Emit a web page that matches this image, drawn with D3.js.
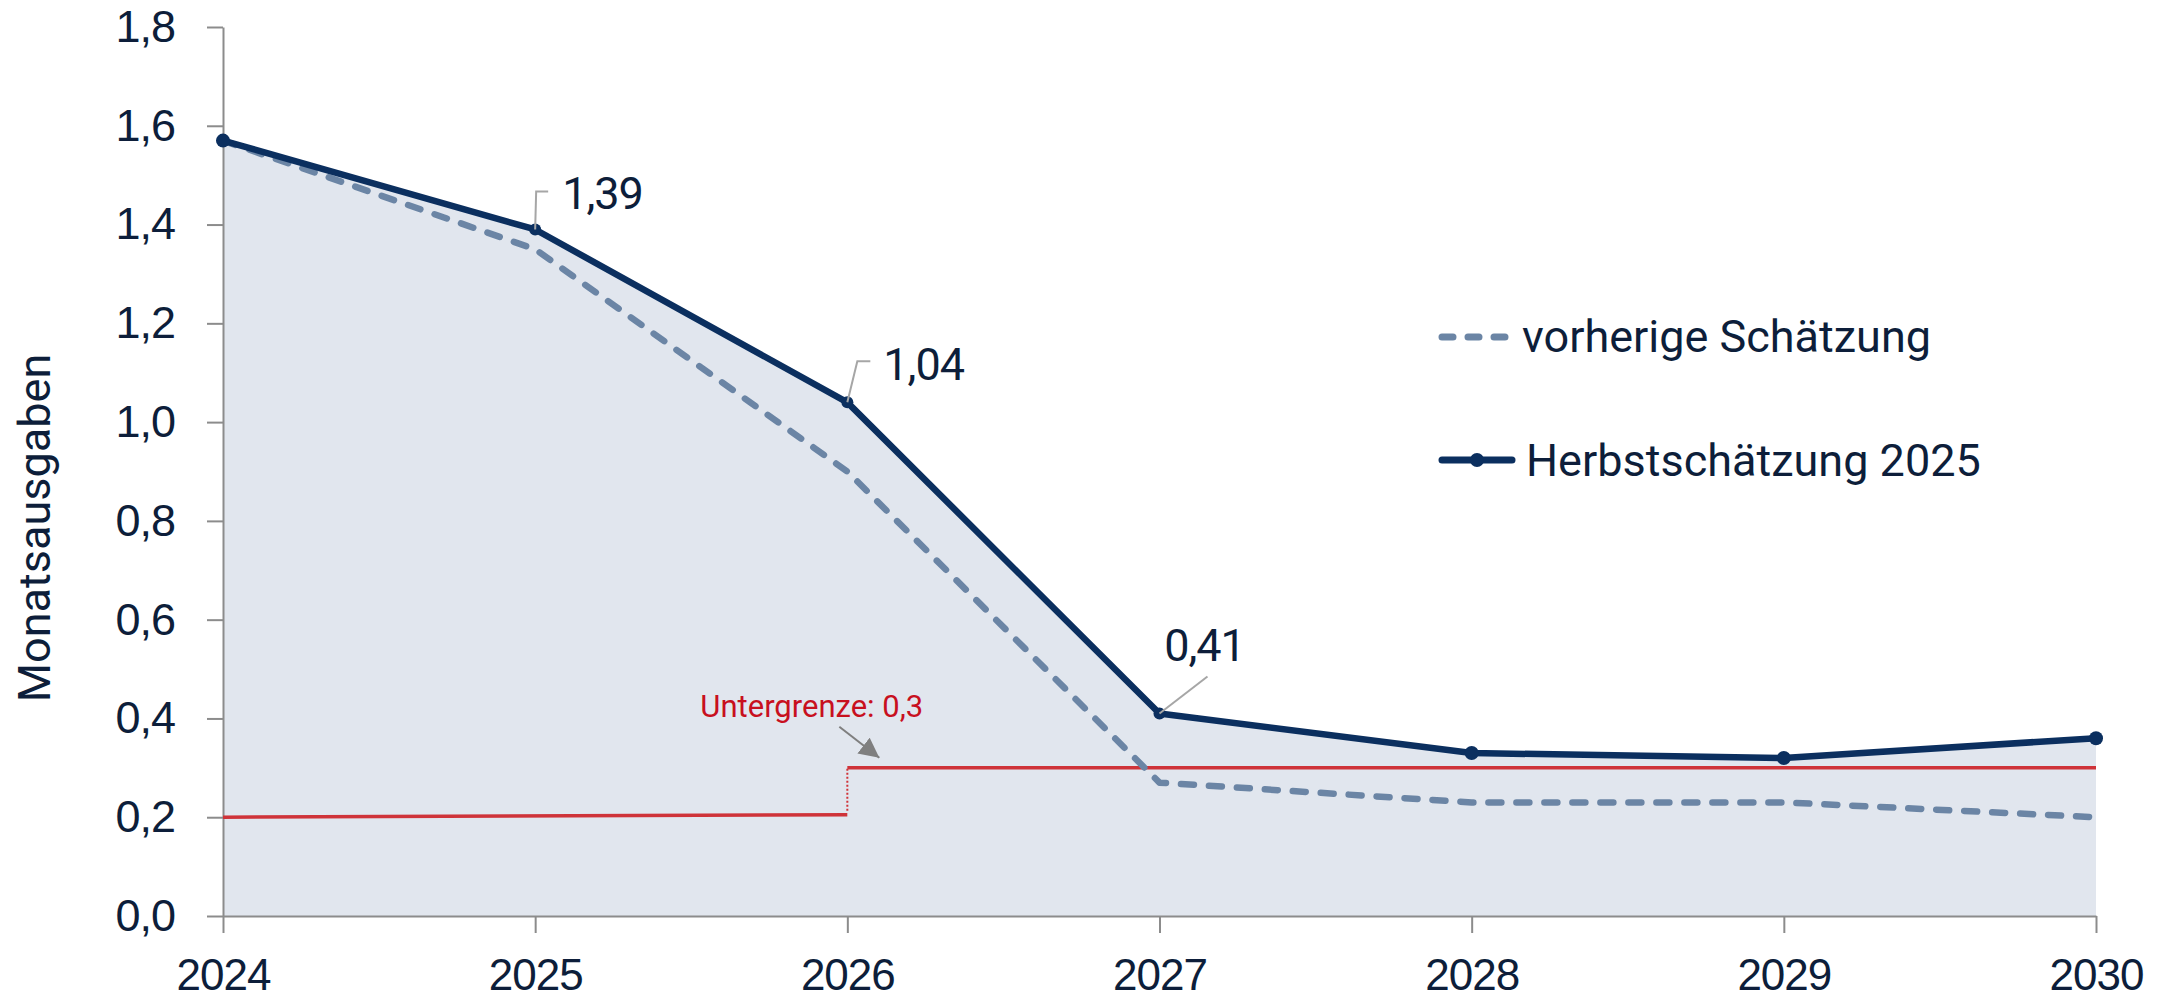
<!DOCTYPE html>
<html>
<head>
<meta charset="utf-8">
<script src="https://cdn.jsdelivr.net/npm/d3@7"></script>
<style>
  body { margin: 0; background: #fff; }
  svg { display: block; font-family: Roboto, "Noto Sans", sans-serif; }
</style>
</head>
<body>
<script>
const years = [2024, 2025, 2026, 2027, 2028, 2029, 2030];
const herbst2025 = [1.57, 1.39, 1.04, 0.41, 0.33, 0.32, 0.36];
const vorherige = [1.57, 1.35, 0.9, 0.27, 0.23, 0.23, 0.2];
const floorLowYears = [2024, 2026];
const floorLow = [0.2, 0.205];
const floorHighYears = [2026, 2030];
const floorHigh = [0.3, 0.3];
const yTicks = [0, 0.2, 0.4, 0.6, 0.8, 1.0, 1.2, 1.4, 1.6, 1.8];
const labeledYears = [2025, 2026, 2027];
const seriesNames = ["vorherige Schätzung", "Herbstschätzung 2025"];
const floorLabel = "Untergrenze: ";
const yTitle = "Monatsausgaben";

const width = 2159;
const height = 1003;
const navy = "#0b2f5f";
const dashBlue = "#6b85a5";
const red = "#cf3339";
const textColor = "#0d1e3a";

const de = d3.formatLocale({ decimal: ",", thousands: ".", grouping: [3], currency: ["", " €"] });

const x = d3.scaleLinear().domain([2024, 2030]).range([223, 2096]);
const y = d3.scaleLinear().domain([0, 1.8]).range([916, 27]);

const svg = d3.select("body").append("svg")
  .attr("width", width)
  .attr("height", height);

const herbst = years.map((yr, i) => ({ year: yr, value: herbst2025[i] }));
const prev = years.map((yr, i) => ({ year: yr, value: vorherige[i] }));

// area under the new estimate
svg.append("path")
  .datum(herbst)
  .attr("fill", "#e1e6ee")
  .attr("d", d3.area().x(d => x(d.year)).y0(y(0)).y1(d => y(d.value)));

// axes
const yAxis = svg.append("g")
  .attr("transform", `translate(${x(2024)},0)`)
  .call(d3.axisLeft(y).tickValues(yTicks).tickSize(16).tickSizeOuter(0).tickPadding(32)
    .tickFormat(de.format(".1f")));

const xAxis = svg.append("g")
  .attr("transform", `translate(0,${y(0)})`)
  .call(d3.axisBottom(x).tickValues(years).tickSize(17).tickSizeOuter(0).tickPadding(26)
    .tickFormat(d3.format("d")));

[yAxis, xAxis].forEach(g => {
  g.selectAll("path, line").attr("stroke", "#8c8c8c").attr("stroke-width", 2);
  g.selectAll("text")
    .attr("fill", textColor)
    .style("font-size", "45px")
    .style("letter-spacing", "-1px");
});
xAxis.selectAll("text").style("font-size", "44px");

svg.append("text")
  .attr("transform", "rotate(-90)")
  .attr("x", -528)
  .attr("y", 50)
  .attr("text-anchor", "middle")
  .attr("fill", textColor)
  .style("font-size", "45px")
  .text(yTitle);

// lower bound
const floorLine = d3.line().x(d => x(d[0])).y(d => y(d[1]));
svg.append("path")
  .datum(floorLowYears.map((yr, i) => [yr, floorLow[i]]))
  .attr("fill", "none").attr("stroke", red).attr("stroke-width", 3.5)
  .attr("d", floorLine);
svg.append("path")
  .datum(floorHighYears.map((yr, i) => [yr, floorHigh[i]]))
  .attr("fill", "none").attr("stroke", red).attr("stroke-width", 3.5)
  .attr("d", floorLine);
svg.append("line")
  .attr("x1", x(2026)).attr("x2", x(2026))
  .attr("y1", y(floorLow[1]) - 4).attr("y2", y(floorHigh[0]))
  .attr("stroke", red).attr("stroke-width", 2).attr("stroke-dasharray", "2 2");

// previous estimate (dashed)
svg.append("path")
  .datum(prev)
  .attr("fill", "none")
  .attr("stroke", dashBlue)
  .attr("stroke-width", 6.5)
  .attr("stroke-linecap", "round")
  .attr("stroke-linejoin", "round")
  .attr("stroke-dasharray", "13 15")
  .attr("d", d3.line().x(d => x(d.year)).y(d => y(d.value)));

// new estimate
svg.append("path")
  .datum(herbst)
  .attr("fill", "none")
  .attr("stroke", navy)
  .attr("stroke-width", 6.5)
  .attr("stroke-linejoin", "round")
  .attr("d", d3.line().x(d => x(d.year)).y(d => y(d.value)));

svg.append("g")
  .selectAll("circle")
  .data(herbst)
  .join("circle")
  .attr("cx", d => x(d.year))
  .attr("cy", d => y(d.value))
  .attr("r", d => labeledYears.includes(d.year) ? 6 : 7)
  .attr("fill", navy);

// value labels with leader lines
const leaders = {
  2025: { path: [[1, -38], [13, -38]], tx: 27, ty: -20, anchor: "start" },
  2026: { path: [[10, -41], [23, -41]], tx: 36, ty: -22, anchor: "start" },
  2027: { path: [[48, -37]], tx: 45, ty: -53, anchor: "middle" }
};
herbst.filter(d => labeledYears.includes(d.year)).forEach(d => {
  const px = x(d.year), py = y(d.value);
  const cfg = leaders[d.year];
  const pts = [[px, py]].concat(cfg.path.map(p => [px + p[0], py + p[1]]));
  svg.append("path")
    .attr("d", d3.line()(pts))
    .attr("fill", "none")
    .attr("stroke", "#a6a6a6")
    .attr("stroke-width", 2);
  svg.append("text")
    .attr("x", px + cfg.tx)
    .attr("y", py + cfg.ty)
    .attr("text-anchor", cfg.anchor)
    .attr("fill", textColor)
    .style("font-size", "45px")
    .style("letter-spacing", "-1px")
    .text(de.format(".2f")(d.value));
});

// floor annotation
const fx = x(2026), fy = y(floorHigh[0]);
svg.append("defs").append("marker")
  .attr("id", "arrow")
  .attr("viewBox", "0 0 10 10")
  .attr("refX", 10).attr("refY", 5)
  .attr("markerWidth", 20).attr("markerHeight", 20)
  .attr("markerUnits", "userSpaceOnUse")
  .attr("orient", "auto")
  .append("path")
  .attr("d", "M0,0L10,5L0,10Z")
  .attr("fill", "#7f7f7f");
svg.append("line")
  .attr("x1", fx - 8).attr("y1", fy - 41)
  .attr("x2", fx + 32).attr("y2", fy - 10)
  .attr("stroke", "#7f7f7f")
  .attr("stroke-width", 2)
  .attr("marker-end", "url(#arrow)");
svg.append("text")
  .attr("x", fx - 147)
  .attr("y", fy - 51)
  .attr("fill", "#c8101e")
  .style("font-size", "31px")
  .text(floorLabel + de.format(".1f")(floorHigh[0]));

// legend
const legend = svg.append("g").attr("transform", "translate(1442,0)");
legend.append("line")
  .attr("x1", 0).attr("x2", 66).attr("y1", 337).attr("y2", 337)
  .attr("stroke", dashBlue).attr("stroke-width", 7)
  .attr("stroke-linecap", "round").attr("stroke-dasharray", "11 15");
legend.append("line")
  .attr("x1", 0).attr("x2", 70).attr("y1", 460).attr("y2", 460)
  .attr("stroke", navy).attr("stroke-width", 7).attr("stroke-linecap", "round");
legend.append("circle")
  .attr("cx", 35).attr("cy", 460).attr("r", 7).attr("fill", navy);
legend.selectAll("text.leg")
  .data(seriesNames)
  .join("text")
  .attr("class", "leg")
  .attr("x", (d, i) => i === 0 ? 80 : 84)
  .attr("y", (d, i) => i === 0 ? 352 : 476)
  .attr("fill", textColor)
  .style("font-size", "45px")
  .text(d => d);
</script>
</body>
</html>
